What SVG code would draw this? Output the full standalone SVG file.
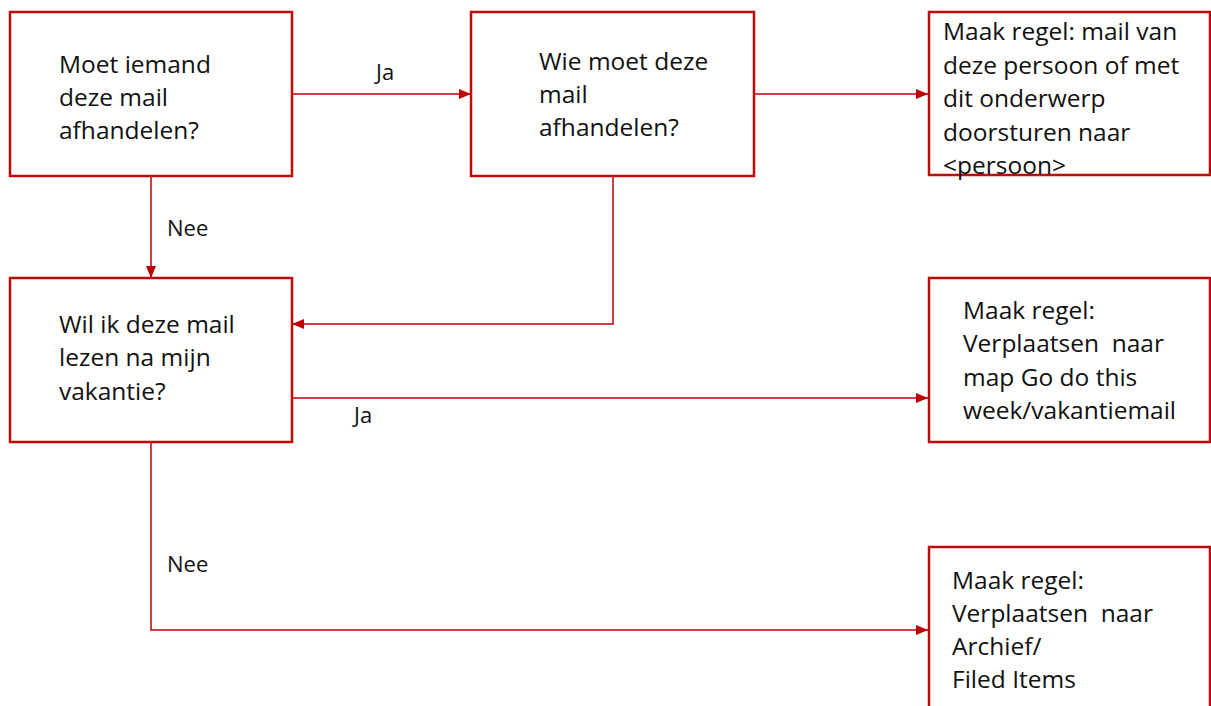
<svg xmlns="http://www.w3.org/2000/svg" width="1211" height="706" viewBox="0 0 1211 706">
  <defs>
    <style>
      .box { fill: #ffffff; stroke: #bf0a0a; stroke-width: 2.5; }
      .conn { fill: none; stroke: #c00000; stroke-width: 1.5; }
      .t { font-family: "Open Sans", "Liberation Sans", sans-serif; font-size: 24.5px; fill: #111111; white-space: pre; }
      .lbl { font-family: "Open Sans", "Liberation Sans", sans-serif; font-size: 22px; fill: #111111; }
    </style>
    <marker id="arr" viewBox="0 0 12 10" refX="12" refY="5" markerWidth="12" markerHeight="10" markerUnits="userSpaceOnUse" orient="auto">
      <path d="M0,0 L12,5 L0,10 Z" fill="#c00000"/>
    </marker>
  </defs>
  <rect width="1211" height="706" fill="#ffffff"/>

  <g id="connectors">
    <path class="conn" d="M292,94 L471,94" marker-end="url(#arr)"/>
    <path class="conn" d="M754,94 L928,94" marker-end="url(#arr)"/>
    <path class="conn" d="M151,176 L151,278" marker-end="url(#arr)"/>
    <path class="conn" d="M613,176 L613,324 L292,324" marker-end="url(#arr)"/>
    <path class="conn" d="M292,398 L928,398" marker-end="url(#arr)"/>
    <path class="conn" d="M151,442 L151,630 L928,630" marker-end="url(#arr)"/>
    <text class="lbl" x="376" y="80">Ja</text>
    <text class="lbl" x="167" y="236">Nee</text>
    <text class="lbl" x="354" y="423">Ja</text>
    <text class="lbl" x="167" y="572">Nee</text>
  </g>

  <g id="node-moet-iemand">
    <rect class="box" x="10" y="12" width="282" height="164"/>
    <text class="t" x="59" y="73">Moet iemand</text>
    <text class="t" x="59" y="106">deze mail</text>
    <text class="t" x="59" y="139">afhandelen?</text>
  </g>

  <g id="node-wie-moet">
    <rect class="box" x="471" y="12" width="283" height="164"/>
    <text class="t" x="539" y="70">Wie moet deze</text>
    <text class="t" x="539" y="103">mail</text>
    <text class="t" x="539" y="136">afhandelen?</text>
  </g>

  <g id="node-regel-doorsturen">
    <rect class="box" x="929" y="12" width="281" height="163"/>
    <text class="t" x="943" y="40">Maak regel: mail van</text>
    <text class="t" x="943" y="74">deze persoon of met</text>
    <text class="t" x="943" y="107">dit onderwerp</text>
    <text class="t" x="943" y="141">doorsturen naar</text>
    <text class="t" x="943" y="174">&lt;persoon&gt;</text>
  </g>

  <g id="node-wil-ik">
    <rect class="box" x="10" y="278" width="282" height="164"/>
    <text class="t" x="59" y="333">Wil ik deze mail</text>
    <text class="t" x="59" y="366">lezen na mijn</text>
    <text class="t" x="59" y="400">vakantie?</text>
  </g>

  <g id="node-regel-vakantie">
    <rect class="box" x="929" y="278" width="281" height="164"/>
    <text class="t" x="963" y="319">Maak regel:</text>
    <text class="t" x="963" y="352">Verplaatsen  naar</text>
    <text class="t" x="963" y="386">map Go do this</text>
    <text class="t" x="963" y="419">week/vakantiemail</text>
  </g>

  <g id="node-regel-archief">
    <rect class="box" x="929" y="547" width="281" height="170"/>
    <text class="t" x="952" y="589">Maak regel:</text>
    <text class="t" x="952" y="622">Verplaatsen  naar</text>
    <text class="t" x="952" y="655">Archief/</text>
    <text class="t" x="952" y="688">Filed Items</text>
  </g>
</svg>
